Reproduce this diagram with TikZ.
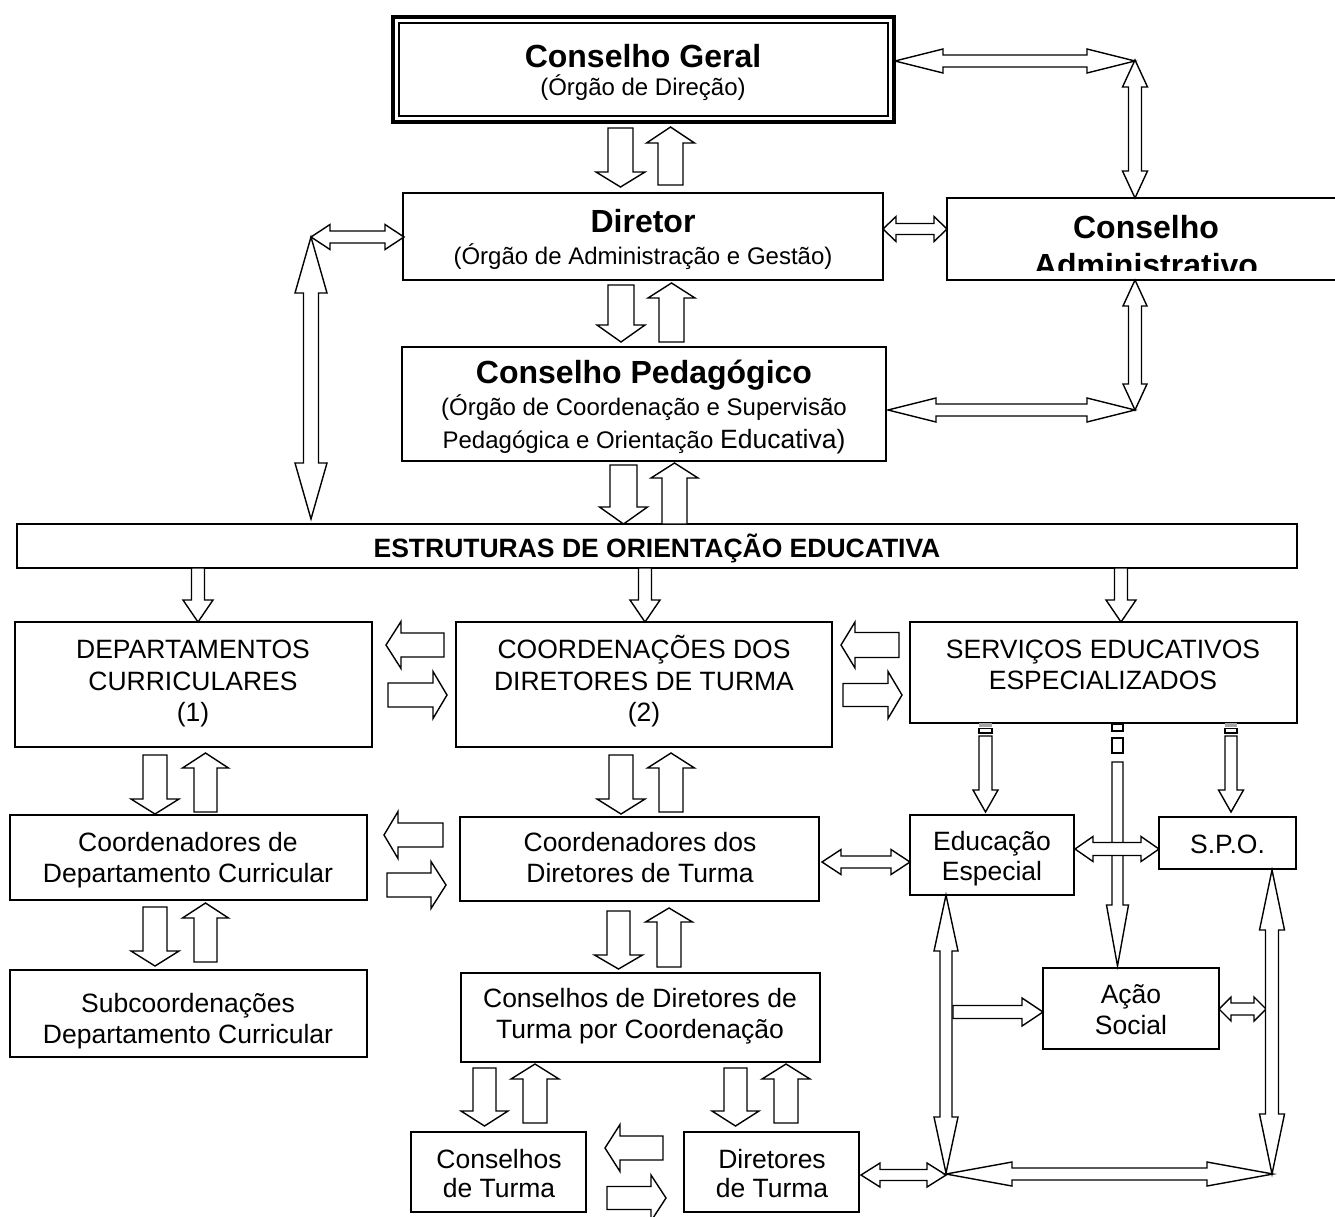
\documentclass[tikz,border=0pt]{standalone}
\usepackage{fontspec}
\setmainfont{Liberation Sans}
\usetikzlibrary{calc}
\newcommand\TitleF{\fontsize{32}{37}\selectfont\bfseries}
\newcommand\SubF{\fontsize{24}{30}\selectfont}
\newcommand\BodyF{\fontsize{26.5}{31}\selectfont}
\newcommand\EoeF{\fontsize{26.5}{31}\selectfont\bfseries}
\tikzset{
  box/.style={draw, line width=1.6pt, fill=white, inner sep=0pt, outer sep=0pt, anchor=north west},
  arr/.style={draw, line width=1.4pt, fill=white, line join=miter, miter limit=20},
  txt/.style={anchor=base, inner sep=0pt, font=\BodyF},
}
% single block arrow: x y angle length shaft head headlength
\newcommand\SA[7]{\draw[arr,shift={(#1,#2)},rotate=#3] (0,{-(#5)/2}) -- ({#4-#7},{-(#5)/2}) -- ({#4-#7},{-(#6)/2}) -- (#4,0) -- ({#4-#7},{(#6)/2}) -- ({#4-#7},{(#5)/2}) -- (0,{(#5)/2}) -- cycle;}
% double block arrow
\newcommand\DA[7]{\draw[arr,shift={(#1,#2)},rotate=#3] (0,0) -- (#7,{-(#6)/2}) -- (#7,{-(#5)/2}) -- ({#4-#7},{-(#5)/2}) -- ({#4-#7},{-(#6)/2}) -- (#4,0) -- ({#4-#7},{(#6)/2}) -- ({#4-#7},{(#5)/2}) -- (#7,{(#5)/2}) -- (#7,{(#6)/2}) -- cycle;}
\begin{document}
\begin{tikzpicture}[x=1pt,y=-1pt]
\useasboundingbox[fill=white] (0,0) rectangle (1335,1216);

% ---------- boxes ----------
\node[box, line width=3.2pt, minimum width=501pt, minimum height=105pt] (cg) at (393,17) {};
\draw[line width=1.6pt] ($(cg.north west)+(6,6)$) rectangle ($(cg.south east)+(-6,-6)$);
\node[box, minimum width=480pt, minimum height=87pt] (dir) at (403,193) {};
\node[box, minimum width=398pt, minimum height=82pt] (ca) at (947,198) {};
\node[box, minimum width=484pt, minimum height=114pt] (cp) at (402,347) {};
\node[box, minimum width=1280pt, minimum height=44pt] (eoe) at (17,524) {};
\node[box, minimum width=357pt, minimum height=125pt] (dc) at (15,622) {};
\node[box, minimum width=376pt, minimum height=125pt] (cdt) at (456,622) {};
\node[box, minimum width=387pt, minimum height=101pt] (see) at (910,622) {};
\node[box, minimum width=357pt, minimum height=85pt] (cdc) at (10,815) {};
\node[box, minimum width=359pt, minimum height=84pt] (codt) at (460,817) {};
\node[box, minimum width=164pt, minimum height=80pt] (ee) at (910,815) {};
\node[box, minimum width=137pt, minimum height=52pt] (spo) at (1159,817) {};
\node[box, minimum width=176pt, minimum height=81pt] (as) at (1043,968) {};
\node[box, minimum width=357pt, minimum height=87pt] (sub) at (10,970) {};
\node[box, minimum width=359pt, minimum height=89pt] (cdtc) at (461,973) {};
\node[box, minimum width=175pt, minimum height=80pt] (ct) at (411,1132) {};
\node[box, minimum width=175pt, minimum height=80pt] (dt) at (684,1132) {};

% ---------- texts ----------
\node[txt,font=\TitleF] (cgT) at (643,67) {Conselho Geral};
\node[txt,font=\SubF] (cgS) at (643,95) {(Órgão de Direção)};
\node[txt,font=\TitleF] (dirT) at (643,232) {Diretor};
\node[txt,font=\SubF] (dirS) at (643,264) {(Órgão de Administração e Gestão)};
\begin{scope}
\clip (947,199) rectangle (1335,270);
\node[txt,font=\TitleF] (caT) at (1146,238) {Conselho};
\node[txt,font=\TitleF] (caS) at (1146,276) {Administrativo};
\end{scope}
\begin{scope}
\clip (403,348) rectangle (885,455);
\node[txt,font=\TitleF] (cpT) at (644,383) {Conselho Pedagógico};
\node[txt,font=\SubF] (cpS1) at (644,415) {(Órgão de Coordenação e Supervisão};
\node[txt,font=\SubF] (cpS2) at (644,448) {Pedagógica e Orientação {\BodyF Educativa)}};
\end{scope}
\node[txt,font=\EoeF] (eoeT) at (657,557) {ESTRUTURAS DE ORIENTAÇÃO EDUCATIVA};
\node[txt] (dc1) at (193,658) {DEPARTAMENTOS};
\node[txt] (dc2) at (193,690) {CURRICULARES};
\node[txt] (dc3) at (193,721) {(1)};
\node[txt] (cdt1) at (644,658) {COORDENAÇÕES DOS};
\node[txt] (cdt2) at (644,690) {DIRETORES DE TURMA};
\node[txt] (cdt3) at (644,721) {(2)};
\node[txt] (see1) at (1103,658) {SERVIÇOS EDUCATIVOS};
\node[txt] (see2) at (1103,689) {ESPECIALIZADOS};
\node[txt] (cdc1) at (188,851) {Coordenadores de};
\node[txt] (cdc2) at (188,882) {Departamento Curricular};
\node[txt] (codt1) at (640,851) {Coordenadores dos};
\node[txt] (codt2) at (640,882) {Diretores de Turma};
\node[txt] (ee1) at (992,850) {Educação};
\node[txt] (ee2) at (992,880) {Especial};
\node[txt] (spo1) at (1227.5,853) {S.P.O.};
\node[txt] (as1) at (1131,1003) {Ação};
\node[txt] (as2) at (1131,1034) {Social};
\node[txt] (sub1) at (188,1012) {Subcoordenações};
\node[txt] (sub2) at (188,1043) {Departamento Curricular};
\node[txt] (cdtc1) at (640,1007) {Conselhos de Diretores de};
\node[txt] (cdtc2) at (640,1038) {Turma por Coordenação};
\node[txt] (ct1) at (499,1168) {Conselhos};
\node[txt] (ct2) at (499,1197) {de Turma};
\node[txt] (dt1) at (772,1168) {Diretores};
\node[txt] (dt2) at (772,1197) {de Turma};

% ---------- arrows: top column ----------
\SA{620.5}{128}{270}{59}{25}{49}{15}
\SA{670.5}{185}{90}{58}{25}{48}{16}
\SA{621}{285}{270}{57}{26}{48}{17}
\SA{671.5}{342}{90}{59}{25}{47}{15}
\SA{623.5}{465}{270}{59}{27}{48}{17}
\SA{674.5}{524}{90}{61}{25}{47}{15}
% right loop
\DA{895}{61}{0}{240}{12}{24}{48}
\DA{1135}{198}{90}{138}{13}{25}{27}
\DA{883}{229}{0}{64}{11}{25}{13}
\DA{1135}{280}{270}{130}{13}{24}{26}
\DA{888}{410}{0}{247}{12}{24}{48}
% left loop
\DA{404}{237}{180}{93}{12}{25}{19}
\DA{311}{237}{270}{282}{15}{32}{56}
% from EOE
\SA{198}{568}{270}{54}{13}{30}{22}
\SA{645}{568}{270}{54}{13}{30}{22}
\SA{1121}{568}{270}{54}{13}{30}{22}
% between row boxes
\SA{444}{645}{180}{58}{24}{47}{15}
\SA{388}{695}{0}{59}{24}{47}{14}
\SA{899}{645}{180}{58}{25}{46}{14}
\SA{843}{695}{0}{59}{23}{47}{14}
\SA{155}{755}{270}{59}{24}{48}{15}
\SA{205.5}{812}{90}{59}{23}{46}{15}
\SA{621}{755}{270}{59}{24}{48}{15}
\SA{671}{812}{90}{59}{24}{47}{15}
\SA{443}{835}{180}{59}{24}{47}{14}
\SA{387}{885}{0}{59}{24}{47}{15}
\DA{822}{862}{0}{88}{12}{25}{19}
\SA{155}{907}{270}{59}{24}{48}{15}
\SA{205.5}{962}{90}{59}{23}{46}{15}
\SA{618.5}{911}{270}{58}{23}{48}{14}
\SA{669}{967}{90}{59}{24}{47}{14}
\SA{484.5}{1068}{270}{58}{23}{47}{15}
\SA{535}{1123}{90}{59}{24}{48}{15}
\SA{735.5}{1068}{270}{58}{23}{47}{15}
\SA{786}{1123}{90}{59}{24}{48}{15}
\SA{663}{1148}{180}{58}{24}{47}{15}
\SA{607}{1198}{0}{59}{23}{46}{15}
\DA{861}{1175}{0}{85}{11}{24}{19}
% services
\fill[gray!70] (979,723) rectangle (992,727);
\draw[line width=1.1pt] (979,728.5) rectangle (992,733);
\SA{985.5}{736}{270}{76}{13}{25}{22}
\fill[gray!70] (1225,723) rectangle (1237,727);
\draw[line width=1.1pt] (1225,728.5) rectangle (1237,733);
\SA{1231}{736}{270}{76}{12}{25}{22}
\draw[line width=1.3pt] (1112,724) rectangle (1123,731);
\draw[line width=1.3pt] (1112,738) rectangle (1123,753);
\SA{1117.5}{762}{270}{204}{11}{22}{61}
\DA{1075}{849}{0}{84}{13}{25}{18}
\SA{953}{1012}{0}{90}{13}{28}{21}
\DA{946}{895}{270}{278}{12}{24}{56}
\DA{1219}{1009}{0}{47}{12}{24}{12}
\DA{1272}{870}{270}{304}{13}{25}{60}
\DA{946}{1174}{0}{327}{12}{24}{66}
\end{tikzpicture}
\end{document}
